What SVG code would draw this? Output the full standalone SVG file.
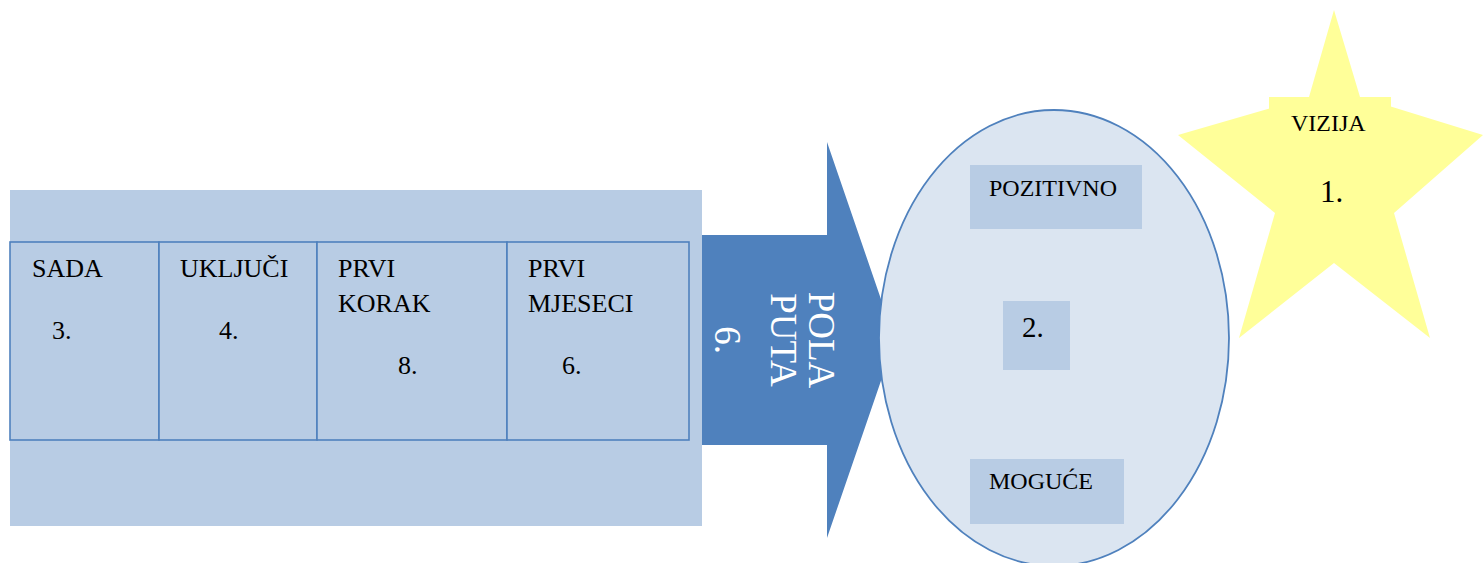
<svg xmlns="http://www.w3.org/2000/svg" width="1484" height="563" viewBox="0 0 1484 563">
<style>
text{font-family:'Liberation Serif','Times New Roman',serif;fill:#000}
.c{font-size:26px}
.s{font-size:24px}
.w{fill:#fff;font-size:37px;text-anchor:middle}
.cell{fill:#B8CCE4;stroke:#4F81BD;stroke-width:1.6}
.box{fill:#B8CCE4}
.yel{fill:#FFFF99}
</style>
<rect width="1484" height="563" fill="#fff"/>
<g id="base">
<rect x="10" y="190" width="692" height="336" fill="#B8CCE4"/>
</g>
<g id="cell-sada">
<rect class="cell" x="10" y="242" width="149" height="198"/>
<text class="c" x="32" y="277">SADA</text>
<text class="c" x="52" y="339">3.</text>
</g>
<g id="cell-ukljuci">
<rect class="cell" x="159" y="242" width="158" height="198"/>
<text class="c" x="180" y="277">UKLJUČI</text>
<text class="c" x="219" y="339">4.</text>
</g>
<g id="cell-prvi-korak">
<rect class="cell" x="317" y="242" width="190" height="198"/>
<text class="c" x="338" y="277">PRVI</text>
<text class="c" x="338" y="312">KORAK</text>
<text class="c" x="398" y="374">8.</text>
</g>
<g id="cell-prvi-mjeseci">
<rect class="cell" x="507" y="242" width="182" height="198"/>
<text class="c" x="528" y="277">PRVI</text>
<text class="c" x="528" y="312">MJESECI</text>
<text class="c" x="562" y="374">6.</text>
</g>
<g id="connectors">
<path d="M702 235 H827 V142 L895 340 L827 538 V445 H702 Z" fill="#4F81BD"/>
<text class="w" transform="translate(809,340) rotate(90)">POLA</text>
<text class="w" transform="translate(771,340) rotate(90)">PUTA</text>
<text class="w" transform="translate(715,340) rotate(90)">6.</text>
</g>
<g id="ellipse">
<ellipse cx="1054" cy="338" rx="175" ry="228" fill="#DBE5F1" stroke="#4F81BD" stroke-width="1.8"/>
<rect class="box" x="970" y="165" width="172" height="64"/>
<text class="s" x="989" y="196">POZITIVNO</text>
<rect class="box" x="1003" y="301" width="67" height="69"/>
<text x="1022" y="337" font-size="29">2.</text>
<rect class="box" x="970" y="459" width="154" height="65"/>
<text class="s" x="989" y="489">MOGUĆE</text>
</g>
<g id="star">
<polygon class="yel" points="1334,10 1360,97 1483,135 1394,213 1430,338 1334,263 1239,338 1275,213 1178,135 1309,97"/>
<rect class="yel" x="1269" y="97" width="122" height="39"/>
<text class="s" x="1291" y="131">VIZIJA</text>
<text x="1320" y="202" font-size="31">1.</text>
</g>
</svg>
